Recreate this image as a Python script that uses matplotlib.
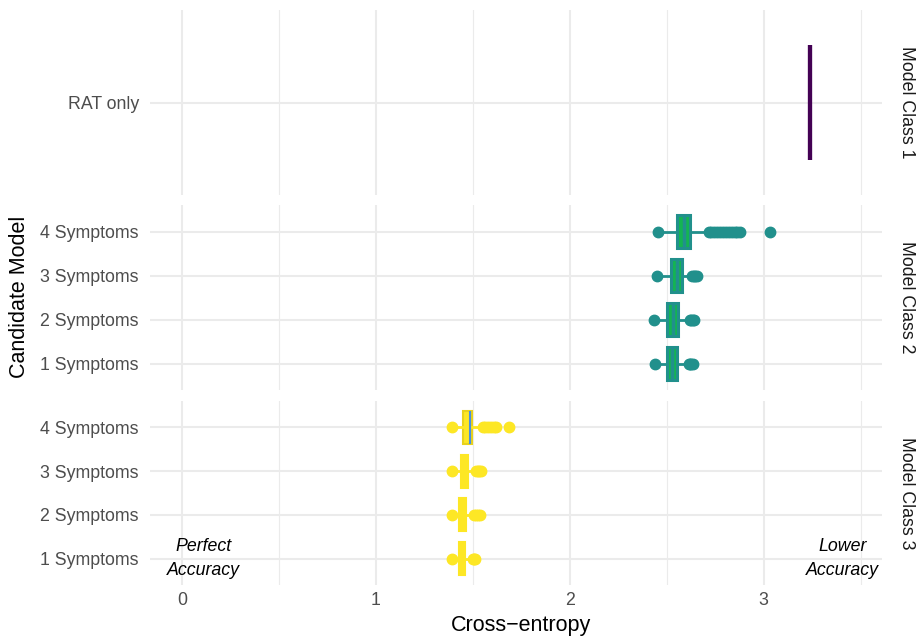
import matplotlib
matplotlib.use("Agg")
import matplotlib.pyplot as plt

plt.rcParams['font.family'] = ['Liberation Sans', 'DejaVu Sans']

# ---------------- data ----------------
panel_labels = ["Model Class 1", "Model Class 2", "Model Class 3"]
c1_labels = ["RAT only"]
sym_labels = ["1 Symptoms", "2 Symptoms", "3 Symptoms", "4 Symptoms"]
x_ticks = [0, 1, 2, 3]

# Class 1 (constant value)
c1_value = [3.241]

# Class 2 (order: 1,2,3,4 Symptoms)
c2_q1 = [2.500, 2.503, 2.524, 2.553]
c2_med = [2.528, 2.531, 2.552, 2.588]
c2_q3 = [2.555, 2.558, 2.579, 2.622]
c2_lo = [2.46, 2.45, 2.47, 2.47]
c2_hi = [2.605, 2.61, 2.62, 2.70]
c2_fliers = [
    [2.438, 2.613, 2.620, 2.627, 2.634],
    [2.433, 2.620, 2.627, 2.634, 2.640],
    [2.450, 2.630, 2.638, 2.646, 2.655],
    [2.455, 2.716, 2.73, 2.745, 2.76, 2.775, 2.79, 2.805, 2.82, 2.835,
     2.85, 2.863, 2.876, 3.031],
]

# Class 3
c3_q1 = [1.428, 1.430, 1.437, 1.449]
c3_med = [1.444, 1.447, 1.456, 1.485]
c3_q3 = [1.460, 1.464, 1.476, 1.498]
c3_lo = [1.40, 1.40, 1.40, 1.40]
c3_hi = [1.495, 1.50, 1.51, 1.545]
c3_fliers = [
    [1.390, 1.500, 1.505, 1.510],
    [1.390, 1.505, 1.515, 1.525, 1.535],
    [1.390, 1.515, 1.525, 1.533, 1.540],
    [1.393, 1.55, 1.565, 1.58, 1.595, 1.61, 1.62, 1.687],
]

annot_left = ["Perfect\nAccuracy", 0.11]
annot_right = ["Lower\nAccuracy", 3.405]

col1 = "#440154"
col2 = "#21908C"
col2_fill = "#14B452"
col3 = "#FDE725"
col3_med = "#4A8FE0"

# ---------------- figure ----------------
W, H = 923, 642
fig = plt.figure(figsize=(W / 100, H / 100), dpi=100)

def px_axes(left, top, right, bottom):
    return fig.add_axes([left / W, 1 - bottom / H, (right - left) / W, (bottom - top) / H])

L, R = 150, 882
ax1 = px_axes(L, 10, R, 195)
ax2 = px_axes(L, 205.5, R, 390)
ax3 = px_axes(L, 401, R, 585)
axes = [ax1, ax2, ax3]

xlim = (-0.165, 3.61)
grid_col = "#EBEBEB"
tick_col = "#4D4D4D"
fs = 12.8


def make_stats(q1, med, q3, lo, hi, fl):
    return [dict(q1=a, med=b, q3=c, whislo=d, whishi=e, fliers=f)
            for a, b, c, d, e, f in zip(q1, med, q3, lo, hi, fl)]

pos = [1, 2, 3, 4]

# Class 1
st1 = make_stats(c1_value, c1_value, c1_value, c1_value, c1_value, [[]])
ax1.bxp(st1, positions=[1], widths=0.75, vert=False, patch_artist=True,
        showcaps=False, manage_ticks=False,
        boxprops=dict(facecolor=col1, edgecolor=col1, lw=3),
        medianprops=dict(color=col1, lw=3),
        whiskerprops=dict(color=col1, lw=2))
ax1.set_ylim(0.4, 1.6)
ax1.set_yticks([1])
ax1.set_yticklabels(c1_labels)

# Class 2
st2 = make_stats(c2_q1, c2_med, c2_q3, c2_lo, c2_hi, c2_fliers)
ax2.bxp(st2, positions=pos, widths=0.75, vert=False, patch_artist=True,
        showcaps=False, manage_ticks=False,
        boxprops=dict(facecolor=col2_fill, edgecolor=col2, lw=2.2),
        medianprops=dict(color=col2, lw=2.5),
        whiskerprops=dict(color=col2, lw=2),
        flierprops=dict(marker="o", markersize=7.5, markerfacecolor=col2,
                        markeredgecolor=col2, linestyle="none"))
ax2.set_ylim(0.4, 4.6)
ax2.set_yticks(pos)
ax2.set_yticklabels(sym_labels)

# Class 3
st3 = make_stats(c3_q1, c3_med, c3_q3, c3_lo, c3_hi, c3_fliers)
bp3 = ax3.bxp(st3, positions=pos, widths=0.75, vert=False, patch_artist=True,
              showcaps=False, manage_ticks=False,
              boxprops=dict(facecolor=col3, edgecolor=col3, lw=1.5),
              medianprops=dict(color=col3, lw=1.5),
              whiskerprops=dict(color=col3, lw=2),
              flierprops=dict(marker="o", markersize=7.5, markerfacecolor=col3,
                              markeredgecolor=col3, linestyle="none"))
bp3["medians"][3].set_color(col3_med)
bp3["boxes"][3].set_edgecolor("#E8D21C")
ax3.set_ylim(0.4, 4.6)
ax3.set_yticks(pos)
ax3.set_yticklabels(sym_labels)

for ax in axes:
    ax.set_xlim(*xlim)
    for s in ax.spines.values():
        s.set_visible(False)
    ax.set_xticks(x_ticks)
    ax.set_xticks([0.5, 1.5, 2.5, 3.5], minor=True)
    ax.grid(True, which="major", axis="both", color=grid_col, lw=1.5, zorder=0)
    ax.grid(True, which="minor", axis="x", color=grid_col, lw=0.8, zorder=0)
    ax.tick_params(axis="both", which="both", length=0, labelsize=fs,
                   labelcolor=tick_col, pad=8)
    ax.set_axisbelow(True)
    ax.set_facecolor("none")

for ax in (ax1, ax2):
    ax.tick_params(axis="x", labelbottom=False)

ax3.set_xticklabels([str(v) for v in x_ticks])
ax3.tick_params(axis="x", pad=5)

ax3.text(annot_left[1], 1, annot_left[0], ha="center", va="center",
         style="italic", fontsize=fs, color="black", linespacing=1.55)
ax3.text(annot_right[1], 1, annot_right[0], ha="center", va="center",
         style="italic", fontsize=fs, color="black", linespacing=1.55)

# strip labels
for ax, lab in zip(axes, panel_labels):
    ax.text(1.0 + 24 / (R - L), 0.5, lab, transform=ax.transAxes, rotation=-90,
            ha="center", va="center", fontsize=fs, color="#1A1A1A")

# axis titles
fig.text((L + R) / 2 / W + 0.005, 1 - 626 / H, "Cross\u2212entropy", ha="center",
         va="center", fontsize=15.5, color="black")
fig.text(20 / W, 1 - 297 / H, "Candidate Model", ha="center", va="center",
         rotation=90, fontsize=15.5, color="black")

fig.savefig("out.png", dpi=100, facecolor="white")
